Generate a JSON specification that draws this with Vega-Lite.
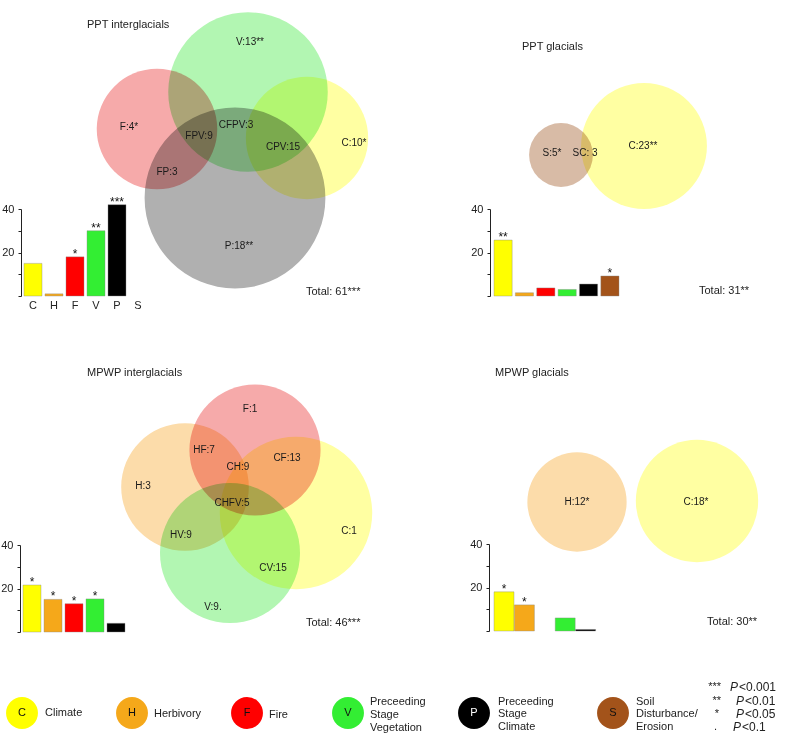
{
  "$schema": "https://vega.github.io/schema/vega-lite/v6.json",
  "width": 786,
  "height": 734,
  "autosize": {"type": "none"},
  "padding": 0,
  "background": "white",
  "config": {"view": {"stroke": null}, "font": "Liberation Sans", "text": {"font": "Liberation Sans"}},
  "datasets": {
    "venn": [
      {"panel": "PPT interglacials", "set": "P", "cx": 235, "cy": 198, "r": 102},
      {"panel": "PPT interglacials", "set": "F", "cx": 157, "cy": 129, "r": 68},
      {"panel": "PPT interglacials", "set": "V", "cx": 248, "cy": 92, "r": 90},
      {"panel": "PPT interglacials", "set": "C", "cx": 307, "cy": 138, "r": 69},
      {"panel": "PPT glacials", "set": "S", "cx": 561, "cy": 155, "r": 36},
      {"panel": "PPT glacials", "set": "C", "cx": 644, "cy": 146, "r": 71},
      {"panel": "MPWP interglacials", "set": "H", "cx": 185, "cy": 487, "r": 72},
      {"panel": "MPWP interglacials", "set": "F", "cx": 255, "cy": 450, "r": 74},
      {"panel": "MPWP interglacials", "set": "C", "cx": 296, "cy": 513, "r": 86},
      {"panel": "MPWP interglacials", "set": "V", "cx": 230, "cy": 553, "r": 79},
      {"panel": "MPWP glacials", "set": "H", "cx": 577, "cy": 502, "r": 56},
      {"panel": "MPWP glacials", "set": "C", "cx": 697, "cy": 501, "r": 69}
    ],
    "regions": [
      {"label": "V:13**", "x": 250, "y": 42},
      {"label": "F:4*", "x": 129, "y": 127},
      {"label": "FPV:9", "x": 199, "y": 136},
      {"label": "CFPV:3", "x": 236, "y": 125},
      {"label": "CPV:15", "x": 283, "y": 147},
      {"label": "C:10*", "x": 354, "y": 143},
      {"label": "FP:3", "x": 167, "y": 172},
      {"label": "P:18**", "x": 239, "y": 246},
      {"label": "S:5*", "x": 552, "y": 153},
      {"label": "SC: 3", "x": 585, "y": 153},
      {"label": "C:23**", "x": 643, "y": 146},
      {"label": "F:1", "x": 250, "y": 409},
      {"label": "HF:7", "x": 204, "y": 450},
      {"label": "CF:13", "x": 287, "y": 458},
      {"label": "CH:9", "x": 238, "y": 467},
      {"label": "H:3", "x": 143, "y": 486},
      {"label": "CHFV:5", "x": 232, "y": 503},
      {"label": "HV:9", "x": 181, "y": 535},
      {"label": "C:1", "x": 349, "y": 531},
      {"label": "CV:15", "x": 273, "y": 568},
      {"label": "V:9.", "x": 213, "y": 607},
      {"label": "H:12*", "x": 577, "y": 502},
      {"label": "C:18*", "x": 696, "y": 502}
    ],
    "titles": [
      {"text": "PPT interglacials", "x": 87, "y": 25},
      {"text": "PPT glacials", "x": 522, "y": 47},
      {"text": "MPWP interglacials", "x": 87, "y": 373},
      {"text": "MPWP glacials", "x": 495, "y": 373},
      {"text": "Total: 61***", "x": 306, "y": 292},
      {"text": "Total: 31**", "x": 699, "y": 291},
      {"text": "Total: 46***", "x": 306, "y": 623},
      {"text": "Total: 30**", "x": 707, "y": 622}
    ],
    "legend": [
      {"set": "C", "name": "Climate", "cx": 22, "cy": 713, "r": 18, "tx": 45, "ty": 713},
      {"set": "H", "name": "Herbivory", "cx": 132, "cy": 713, "r": 18, "tx": 154, "ty": 714},
      {"set": "F", "name": "Fire", "cx": 247, "cy": 713, "r": 18, "tx": 269, "ty": 715},
      {"set": "V", "name": "Preceeding\nStage\nVegetation", "cx": 348, "cy": 713, "r": 18, "tx": 370, "ty": 702},
      {"set": "P", "name": "Preceeding\nStage\nClimate", "cx": 474, "cy": 713, "r": 18, "tx": 498, "ty": 701.5},
      {"set": "S", "name": "Soil\nDisturbance/\nErosion", "cx": 613, "cy": 713, "r": 18, "tx": 636, "ty": 701.5}
    ],
    "siglegend": [
      {"stars": "***", "cond": "<0.001", "sx": 721, "px": 730, "qx": 739, "y": 687},
      {"stars": "**", "cond": "<0.01", "sx": 721, "px": 736, "qx": 745, "y": 701},
      {"stars": "*", "cond": "<0.05", "sx": 719, "px": 736, "qx": 745, "y": 714},
      {"stars": ".", "cond": "<0.1", "sx": 717, "px": 733, "qx": 742, "y": 727}
    ],
    "bars": [
      {"panel": "PPT interglacials", "factor": "C", "value": 15, "sig": ""},
      {"panel": "PPT interglacials", "factor": "H", "value": 1, "sig": ""},
      {"panel": "PPT interglacials", "factor": "F", "value": 18, "sig": "*"},
      {"panel": "PPT interglacials", "factor": "V", "value": 30, "sig": "**"},
      {"panel": "PPT interglacials", "factor": "P", "value": 42, "sig": "***"},
      {"panel": "PPT glacials", "factor": "C", "value": 25.7, "sig": "**"},
      {"panel": "PPT glacials", "factor": "H", "value": 1.5, "sig": ""},
      {"panel": "PPT glacials", "factor": "F", "value": 3.7, "sig": ""},
      {"panel": "PPT glacials", "factor": "V", "value": 3, "sig": ""},
      {"panel": "PPT glacials", "factor": "P", "value": 5.5, "sig": ""},
      {"panel": "PPT glacials", "factor": "S", "value": 9.2, "sig": "*"},
      {"panel": "MPWP interglacials", "factor": "C", "value": 21.6, "sig": "*"},
      {"panel": "MPWP interglacials", "factor": "H", "value": 15, "sig": "*"},
      {"panel": "MPWP interglacials", "factor": "F", "value": 13, "sig": "*"},
      {"panel": "MPWP interglacials", "factor": "V", "value": 15.2, "sig": "*"},
      {"panel": "MPWP interglacials", "factor": "P", "value": 4, "sig": ""},
      {"panel": "MPWP glacials", "factor": "C", "value": 18, "sig": "*"},
      {"panel": "MPWP glacials", "factor": "H", "value": 12, "sig": "*"},
      {"panel": "MPWP glacials", "factor": "V", "value": 6, "sig": ""},
      {"panel": "MPWP glacials", "factor": "P", "value": 0.7, "sig": ""}
    ]
  },
  "layer": [
    {
      "layer": [
        {
          "data": {"name": "venn"},
          "mark": {"type": "point", "shape": "circle", "filled": true, "opacity": 1, "strokeWidth": 0, "blend": "multiply"},
          "encoding": {
            "x": {"field": "cx", "type": "quantitative", "scale": {"domain": [0, 786], "nice": false, "zero": false}, "axis": null},
            "y": {"field": "cy", "type": "quantitative", "scale": {"domain": [0, 734], "nice": false, "zero": false, "reverse": true}, "axis": null},
            "size": {"field": "r", "type": "quantitative", "scale": {"type": "pow", "exponent": 2, "domain": [0, 100], "range": [0, 31415.9]}, "legend": null},
            "fill": {"field": "set", "type": "nominal", "scale": {"domain": ["C", "H", "F", "V", "P", "S"], "range": ["#ffffa2", "#fcdcaa", "#f6aaaa", "#b2f6b2", "#b0b0b0", "#d8bba6"]}, "legend": null}
          }
        },
        {
          "data": {"name": "regions"},
          "mark": {"type": "text", "fontSize": 10, "color": "#1a1a1a", "align": "center", "baseline": "middle"},
          "encoding": {
            "x": {"field": "x", "type": "quantitative"},
            "y": {"field": "y", "type": "quantitative"},
            "text": {"field": "label"}
          }
        },
        {
          "data": {"name": "titles"},
          "mark": {"type": "text", "fontSize": 11, "color": "#222", "align": "left", "baseline": "middle"},
          "encoding": {
            "x": {"field": "x", "type": "quantitative"},
            "y": {"field": "y", "type": "quantitative"},
            "text": {"field": "text"}
          }
        },
        {
          "data": {"name": "legend"},
          "mark": {"type": "point", "shape": "circle", "filled": true, "opacity": 1, "strokeWidth": 0},
          "encoding": {
            "x": {"field": "cx", "type": "quantitative"},
            "y": {"field": "cy", "type": "quantitative"},
            "size": {"field": "r", "type": "quantitative", "legend": null},
            "color": {"field": "set", "type": "nominal", "scale": {"domain": ["C", "H", "F", "V", "P", "S"], "range": ["#ffff00", "#f5a81a", "#ff0000", "#33ee33", "#000000", "#a3531a"]}, "legend": null}
          }
        },
        {
          "data": {"name": "legend"},
          "mark": {"type": "text", "fontSize": 11, "align": "center", "baseline": "middle"},
          "encoding": {
            "x": {"field": "cx", "type": "quantitative"},
            "y": {"field": "cy", "type": "quantitative"},
            "text": {"field": "set"},
            "color": {"condition": {"test": "datum.set === 'P'", "value": "white"}, "value": "#111"}
          }
        },
        {
          "data": {"name": "legend"},
          "mark": {"type": "text", "fontSize": 11, "align": "left", "baseline": "middle", "lineBreak": "\n", "lineHeight": 12.8, "color": "#222"},
          "encoding": {
            "x": {"field": "tx", "type": "quantitative"},
            "y": {"field": "ty", "type": "quantitative"},
            "text": {"field": "name"}
          }
        },
        {
          "data": {"name": "siglegend"},
          "mark": {"type": "text", "fontSize": 11, "align": "right", "baseline": "middle", "color": "#222"},
          "encoding": {
            "x": {"field": "sx", "type": "quantitative"},
            "y": {"field": "y", "type": "quantitative"},
            "text": {"field": "stars"}
          }
        },
        {
          "data": {"name": "siglegend"},
          "mark": {"type": "text", "fontSize": 12, "fontStyle": "italic", "align": "left", "baseline": "middle", "color": "#222"},
          "encoding": {
            "x": {"field": "px", "type": "quantitative"},
            "y": {"field": "y", "type": "quantitative"},
            "text": {"value": "P"}
          }
        },
        {
          "data": {"name": "siglegend"},
          "mark": {"type": "text", "fontSize": 12, "align": "left", "baseline": "middle", "color": "#222"},
          "encoding": {
            "x": {"field": "qx", "type": "quantitative"},
            "y": {"field": "y", "type": "quantitative"},
            "text": {"field": "cond"}
          }
        }
      ]
    },
    {
      "data": {"name": "bars"},
      "transform": [{"filter": "datum.panel === 'PPT interglacials'"}],
      "encoding": {
        "x": {"field": "factor", "type": "nominal", "scale": {"domain": ["C", "H", "F", "V", "P", "S"], "range": [24, 147], "paddingInner": 0.143, "paddingOuter": 0},
          "axis": {"orient": "bottom", "offset": -438, "domain": false, "ticks": false, "labelPadding": 3, "labelFontSize": 11, "labelColor": "#222", "labelAngle": 0, "title": null, "labelFont": "Liberation Sans"}},
        "y": {"field": "value", "type": "quantitative", "scale": {"domain": [0, 40], "range": [296, 209], "nice": false, "zero": true},
          "axis": {"orient": "left", "offset": -21, "values": [0, 10, 20, 30, 40], "labelExpr": "datum.value == 20 || datum.value == 40 ? datum.label : ''", "tickSize": 3, "tickColor": "#222", "domainColor": "#222", "labelPadding": 4, "labelFontSize": 11, "labelColor": "#222", "grid": false, "title": null, "labelFont": "Liberation Sans"}}
      },
      "layer": [
        {"mark": {"type": "bar", "stroke": "#888", "strokeWidth": 0.4}, "encoding": {"color": {"field": "factor", "type": "nominal", "legend": null}}},
        {"mark": {"type": "text", "baseline": "alphabetic", "dy": 1, "fontSize": 12, "color": "#111"}, "encoding": {"text": {"field": "sig"}}}
      ]
    },
    {
      "data": {"name": "bars"},
      "transform": [{"filter": "datum.panel === 'PPT glacials'"}],
      "encoding": {
        "x": {"field": "factor", "type": "nominal", "scale": {"domain": ["C", "H", "F", "V", "P", "S"], "range": [494, 619], "paddingInner": 0.15, "paddingOuter": 0}, "axis": null},
        "y": {"field": "value", "type": "quantitative", "scale": {"domain": [0, 40], "range": [296, 209], "nice": false, "zero": true},
          "axis": {"orient": "left", "offset": -490, "values": [0, 10, 20, 30, 40], "labelExpr": "datum.value == 20 || datum.value == 40 ? datum.label : ''", "tickSize": 3, "tickColor": "#222", "domainColor": "#222", "labelPadding": 4, "labelFontSize": 11, "labelColor": "#222", "grid": false, "title": null, "labelFont": "Liberation Sans"}}
      },
      "layer": [
        {"mark": {"type": "bar", "stroke": "#888", "strokeWidth": 0.4}, "encoding": {"color": {"field": "factor", "type": "nominal", "legend": null}}},
        {"mark": {"type": "text", "baseline": "alphabetic", "dy": 1, "fontSize": 12, "color": "#111"}, "encoding": {"text": {"field": "sig"}}}
      ]
    },
    {
      "data": {"name": "bars"},
      "transform": [{"filter": "datum.panel === 'MPWP interglacials'"}],
      "encoding": {
        "x": {"field": "factor", "type": "nominal", "scale": {"domain": ["C", "H", "F", "V", "P", "S"], "range": [23, 146], "paddingInner": 0.143, "paddingOuter": 0}, "axis": null},
        "y": {"field": "value", "type": "quantitative", "scale": {"domain": [0, 40], "range": [632, 545], "nice": false, "zero": true},
          "axis": {"orient": "left", "offset": -20, "values": [0, 10, 20, 30, 40], "labelExpr": "datum.value == 20 || datum.value == 40 ? datum.label : ''", "tickSize": 3, "tickColor": "#222", "domainColor": "#222", "labelPadding": 4, "labelFontSize": 11, "labelColor": "#222", "grid": false, "title": null, "labelFont": "Liberation Sans"}}
      },
      "layer": [
        {"mark": {"type": "bar", "stroke": "#888", "strokeWidth": 0.4}, "encoding": {"color": {"field": "factor", "type": "nominal", "legend": null}}},
        {"mark": {"type": "text", "baseline": "alphabetic", "dy": 1, "fontSize": 12, "color": "#111"}, "encoding": {"text": {"field": "sig"}}}
      ]
    },
    {
      "data": {"name": "bars"},
      "transform": [{"filter": "datum.panel === 'MPWP glacials'"}],
      "encoding": {
        "x": {"field": "factor", "type": "nominal", "scale": {"domain": ["C", "H", "F", "V", "P", "S"], "range": [494, 616], "paddingInner": 0.02, "paddingOuter": 0}, "axis": null},
        "y": {"field": "value", "type": "quantitative", "scale": {"domain": [0, 40], "range": [631, 544], "nice": false, "zero": true},
          "axis": {"orient": "left", "offset": -489, "values": [0, 10, 20, 30, 40], "labelExpr": "datum.value == 20 || datum.value == 40 ? datum.label : ''", "tickSize": 3, "tickColor": "#222", "domainColor": "#222", "labelPadding": 4, "labelFontSize": 11, "labelColor": "#222", "grid": false, "title": null, "labelFont": "Liberation Sans"}}
      },
      "layer": [
        {"mark": {"type": "bar", "stroke": "#888", "strokeWidth": 0.4}, "encoding": {"color": {"field": "factor", "type": "nominal", "legend": null}}},
        {"mark": {"type": "text", "baseline": "alphabetic", "dy": 1, "fontSize": 12, "color": "#111"}, "encoding": {"text": {"field": "sig"}}}
      ]
    }
  ],
  "resolve": {"scale": {"x": "independent", "y": "independent", "color": "shared", "fill": "independent"}, "axis": {"x": "independent", "y": "independent"}}
}
